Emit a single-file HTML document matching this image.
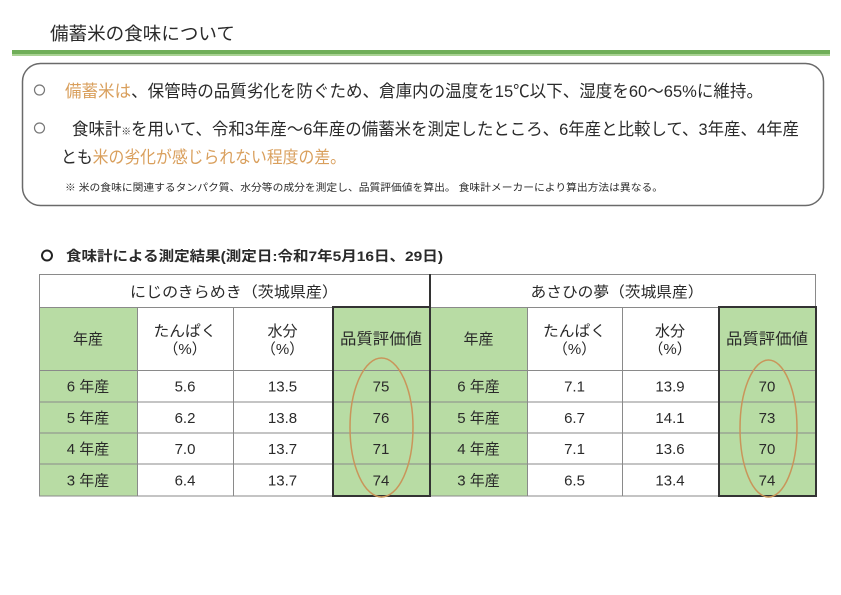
<!DOCTYPE html>
<html><head><meta charset="utf-8">
<style>
html,body{margin:0;padding:0;background:#fff;}
svg{display:block;}
text{font-family:"Liberation Sans","Noto Sans CJK JP",sans-serif;fill:#2a2a2a;}
</style></head>
<body>
<svg width="841" height="595" viewBox="0 0 841 595" xmlns="http://www.w3.org/2000/svg">
<rect width="841" height="595" fill="#fff"/>
<!-- Title -->
<text x="50" y="40" font-size="18" textLength="185" lengthAdjust="spacingAndGlyphs">備蓄米の食味について</text>
<!-- Green rule -->
<rect x="12" y="50" width="818" height="4" fill="#6fae58"/>
<rect x="12" y="54" width="818" height="2" fill="#a9d293"/>
<!-- Box -->
<rect x="22.5" y="63.5" width="801" height="142" rx="18" ry="18" fill="none" stroke="#6a6a6a" stroke-width="1.5"/>
<!-- bullets -->
<circle cx="39.5" cy="90" r="5" fill="none" stroke="#777" stroke-width="1.2"/>
<circle cx="39.5" cy="128" r="5" fill="none" stroke="#777" stroke-width="1.2"/>
<text x="65" y="97" font-size="17" textLength="698" lengthAdjust="spacingAndGlyphs"><tspan fill="#d99f5c">備蓄米は</tspan>、保管時の品質劣化を防ぐため、倉庫内の温度を15℃以下、湿度を60～65%に維持。</text>
<text x="72" y="135" font-size="17" textLength="727" lengthAdjust="spacingAndGlyphs">食味計<tspan font-size="10">※</tspan>を用いて、令和3年産～6年産の備蓄米を測定したところ、6年産と比較して、3年産、4年産</text>
<text x="61" y="163" font-size="17" textLength="285" lengthAdjust="spacingAndGlyphs">とも<tspan fill="#d99f5c">米の劣化が感じられない程度の差。</tspan></text>
<text x="65" y="191" font-size="10" textLength="598" lengthAdjust="spacingAndGlyphs">※  米の食味に関連するタンパク質、水分等の成分を測定し、品質評価値を算出。 食味計メーカーにより算出方法は異なる。</text>
<!-- Heading -->
<circle cx="47" cy="255.5" r="5" fill="none" stroke="#222" stroke-width="2"/>
<text x="66" y="261" font-size="14" font-weight="bold" textLength="377" lengthAdjust="spacingAndGlyphs">食味計による測定結果(測定日:令和7年5月16日、29日)</text>

<!-- Table fills -->
<rect x="39" y="307" width="98" height="189" fill="#b8dca4"/>
<rect x="332" y="307" width="98" height="189" fill="#b8dca4"/>
<rect x="430" y="307" width="97" height="189" fill="#b8dca4"/>
<rect x="718" y="307" width="98" height="189" fill="#b8dca4"/>
<!-- grid -->
<g stroke="#8a8a8a" stroke-width="1" fill="none">
<rect x="39.5" y="274.5" width="776" height="221.5"/>
<line x1="39" y1="307.5" x2="816" y2="307.5"/>
<line x1="39" y1="370.5" x2="816" y2="370.5"/>
<line x1="39" y1="402" x2="816" y2="402"/>
<line x1="39" y1="433" x2="816" y2="433"/>
<line x1="39" y1="464" x2="816" y2="464"/>
<line x1="137.5" y1="307" x2="137.5" y2="496"/>
<line x1="233.5" y1="307" x2="233.5" y2="496"/>
<line x1="527.5" y1="307" x2="527.5" y2="496"/>
<line x1="622.5" y1="307" x2="622.5" y2="496"/>
</g>
<g stroke="#333" stroke-width="2" fill="none">
<rect x="333" y="307" width="97" height="189"/>
<rect x="719" y="307" width="97" height="189"/>
<line x1="430" y1="274" x2="430" y2="496"/>
</g>
<!-- Title row text -->
<text x="234" y="297" font-size="15" text-anchor="middle" textLength="208" lengthAdjust="spacingAndGlyphs" fill="#444">にじのきらめき（茨城県産）</text>
<text x="617" y="297" font-size="15" text-anchor="middle" textLength="173" lengthAdjust="spacingAndGlyphs" fill="#444">あさひの夢（茨城県産）</text>
<!-- Header row -->
<g font-size="15" text-anchor="middle" fill="#333">
<text x="88" y="344">年産</text>
<text x="185" y="336" textLength="63" lengthAdjust="spacingAndGlyphs">たんぱく</text>
<text x="185" y="354">（%）</text>
<text x="282.5" y="336">水分</text>
<text x="282.5" y="354">（%）</text>
<text x="381" y="344" font-size="15.5" textLength="82" lengthAdjust="spacingAndGlyphs">品質評価値</text>
<text x="478.5" y="344">年産</text>
<text x="574.5" y="336" textLength="63" lengthAdjust="spacingAndGlyphs">たんぱく</text>
<text x="574.5" y="354">（%）</text>
<text x="670" y="336">水分</text>
<text x="670" y="354">（%）</text>
<text x="767" y="344" font-size="15.5" textLength="82" lengthAdjust="spacingAndGlyphs">品質評価値</text>
</g>
<!-- Data rows -->
<g font-size="15" text-anchor="middle" fill="#333">
<text x="88" y="391.5">6 年産</text>
<text x="185" y="391.5">5.6</text>
<text x="282.5" y="391.5">13.5</text>
<text x="381" y="391.5">75</text>
<text x="478.5" y="391.5">6 年産</text>
<text x="574.5" y="391.5">7.1</text>
<text x="670" y="391.5">13.9</text>
<text x="767" y="391.5">70</text>

<text x="88" y="423">5 年産</text>
<text x="185" y="423">6.2</text>
<text x="282.5" y="423">13.8</text>
<text x="381" y="423">76</text>
<text x="478.5" y="423">5 年産</text>
<text x="574.5" y="423">6.7</text>
<text x="670" y="423">14.1</text>
<text x="767" y="423">73</text>

<text x="88" y="454">4 年産</text>
<text x="185" y="454">7.0</text>
<text x="282.5" y="454">13.7</text>
<text x="381" y="454">71</text>
<text x="478.5" y="454">4 年産</text>
<text x="574.5" y="454">7.1</text>
<text x="670" y="454">13.6</text>
<text x="767" y="454">70</text>

<text x="88" y="485.5">3 年産</text>
<text x="185" y="485.5">6.4</text>
<text x="282.5" y="485.5">13.7</text>
<text x="381" y="485.5">74</text>
<text x="478.5" y="485.5">3 年産</text>
<text x="574.5" y="485.5">6.5</text>
<text x="670" y="485.5">13.4</text>
<text x="767" y="485.5">74</text>
</g>
<!-- Ellipses -->
<ellipse cx="381.5" cy="427.5" rx="31.5" ry="69.5" fill="none" stroke="#c9955a" stroke-width="1.5"/>
<ellipse cx="768.5" cy="428.5" rx="28.5" ry="68.5" fill="none" stroke="#c9955a" stroke-width="1.5"/>
</svg>
</body></html>
